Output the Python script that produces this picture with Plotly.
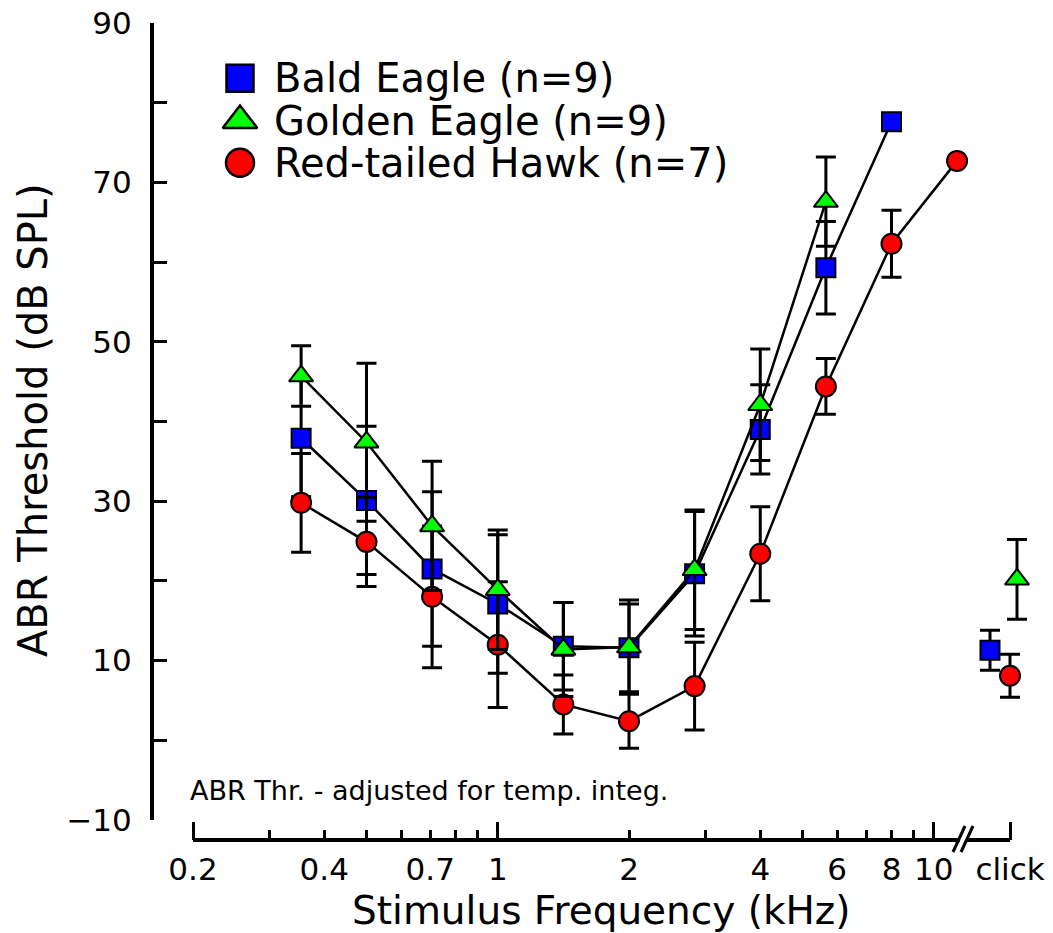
import numpy as np
import plotly.graph_objects as go

# ---------------- data ----------------
SERIES = ["Bald Eagle (n=9)", "Golden Eagle (n=9)", "Red-tailed Hawk (n=7)"]

BALD_FREQ = [0.354, 0.5, 0.707, 1.0, 1.414, 2.0, 2.828, 4.0, 5.657, 8.0]
BALD_THR = [37.9, 30.1, 21.5, 17.1, 11.8, 11.6, 20.9, 39.0, 59.3, 77.6]
BALD_SD = [7.3, 9.3, 9.7, 8.7, 5.5, 5.5, 7.8, 5.6, 5.8, 0.0]

GOLD_FREQ = [0.354, 0.5, 0.707, 1.0, 1.414, 2.0, 2.828, 4.0, 5.657]
GOLD_THR = [45.7, 37.4, 26.9, 18.9, 11.4, 11.7, 21.4, 42.1, 67.6]
GOLD_SD = [3.8, 9.9, 8.1, 7.5, 5.9, 5.9, 7.5, 7.0, 5.6]

HAWK_FREQ = [0.354, 0.5, 0.707, 1.0, 1.414, 2.0, 2.828, 4.0, 5.657, 8.0, 11.31]
HAWK_THR = [29.8, 24.9, 18.0, 12.0, 4.5, 2.4, 6.8, 23.4, 44.4, 62.3, 72.7]
HAWK_SD = [6.2, 5.6, 8.9, 7.9, 3.7, 3.4, 5.5, 5.9, 3.5, 4.2, 0.0]

# click stimulus (order as SERIES)
CLICK_THR = [11.3, 20.2, 8.1]
CLICK_SD = [2.5, 5.0, 2.7]

# axis ticks
X_MAJOR_TICKS = [0.2, 1, 10]
X_MAJOR_LABELS = ["0.2", "1", "10"]
X_LABEL_TICKS = [0.4, 0.7, 2, 4, 6, 8]
X_LABEL_TEXT = ["0.4", "0.7", "2", "4", "6", "8"]
X_MINOR_TICKS = [0.3, 0.4, 0.5, 0.6, 0.7, 0.8, 0.9, 2, 3, 4, 5, 6, 7, 8, 9]
CLICK_LABEL = "click"
Y_TICKS = [-10, 0, 10, 20, 30, 40, 50, 60, 70, 80, 90]
Y_LABELS = ["\u221210", "", "10", "", "30", "", "50", "", "70", "", "90"]

# ---------------- layout geometry ----------------
W, H = 1053, 933
FONT = "DejaVu Sans"
X_PX_START = 193      # pixel of 0.2 kHz
DEC_PX = 436          # pixels per decade
X_DOM_PX = (160, 1053)
X_AXIS_PX = 840
Y_AXIS_PX = 152
Y_TOP_PX, Y_BOT_PX = 23, 820
CLICK_PX = 1010

L02 = np.log10(0.2)
x_lo = L02 - (X_PX_START - X_DOM_PX[0]) / DEC_PX
x_hi = L02 + (X_DOM_PX[1] - X_PX_START) / DEC_PX
CLICK_POS = 10 ** (L02 + (CLICK_PX - X_PX_START) / DEC_PX)


def fx(p):
    return p / W


def fy(p):
    return 1 - p / H


STYLE = [
    dict(symbol="square", color="#0000ff", size=19, legsize=27, click_dpx=-20),
    dict(symbol="triangle-up", color="#00ff00", size=21, legsize=30, click_dpx=7),
    dict(symbol="circle", color="#ff0000", size=20, legsize=28, click_dpx=0),
]

DATA = [
    (BALD_FREQ, BALD_THR, BALD_SD),
    (GOLD_FREQ, GOLD_THR, GOLD_SD),
    (HAWK_FREQ, HAWK_THR, HAWK_SD),
]

fig = go.Figure()

# draw order: bald, hawk, golden
for i in [0, 2, 1]:
    fr, thr, sd = DATA[i]
    st = STYLE[i]
    marker = dict(symbol=st["symbol"], color=st["color"], size=st["size"],
                  line=dict(color="black", width=2))
    err = dict(type="data", array=sd, color="black", thickness=3, width=10, visible=True)
    fig.add_trace(go.Scatter(
        x=fr, y=thr, mode="lines+markers", name=SERIES[i],
        line=dict(color="black", width=2.5), marker=marker, error_y=err,
        showlegend=False, cliponaxis=False,
    ))
    fig.add_trace(go.Scatter(
        x=[CLICK_POS * 10 ** (st["click_dpx"] / DEC_PX)], y=[CLICK_THR[i]],
        mode="markers", name=SERIES[i] + " click", marker=marker,
        error_y=dict(type="data", array=[CLICK_SD[i]], color="black", thickness=3,
                     width=10, visible=True),
        showlegend=False, cliponaxis=False,
    ))

# manual legend (large symbols)
for i in range(3):
    st = STYLE[i]
    fig.add_trace(go.Scatter(
        x=[0.5], y=[i], xaxis="x2", yaxis="y2", mode="markers",
        marker=dict(symbol=st["symbol"], color=st["color"], size=st["legsize"],
                    line=dict(color="black", width=2.5)),
        showlegend=False, hoverinfo="skip",
    ))

annotations = []
for i in range(3):
    annotations.append(dict(
        x=fx(272), xref="paper", y=i, yref="y2", text=SERIES[i], showarrow=False,
        xanchor="left", yanchor="middle", font=dict(family=FONT, size=40, color="black"),
    ))

annotations += [
    dict(x=fx(188), y=fy(790), xref="paper", yref="paper",
         text="ABR Thr. - adjusted for temp. integ.", showarrow=False,
         xanchor="left", yanchor="middle",
         font=dict(family=FONT, size=27, color="black")),
    dict(x=fx(601), y=fy(910), xref="paper", yref="paper",
         text="Stimulus Frequency (kHz)", showarrow=False,
         xanchor="center", yanchor="middle",
         font=dict(family=FONT, size=39, color="black")),
    dict(x=fx(33), y=fy(420), xref="paper", yref="paper",
         text="ABR Threshold (dB SPL)", showarrow=False, textangle=-90,
         xanchor="center", yanchor="middle",
         font=dict(family=FONT, size=40, color="black")),
]

shapes = [
    # x axis line from 0.2 kHz to the click tick
    dict(type="line", xref="paper", yref="paper",
         x0=fx(X_PX_START), x1=fx(CLICK_PX), y0=fy(X_AXIS_PX), y1=fy(X_AXIS_PX),
         line=dict(color="black", width=4)),
    # axis break
    dict(type="line", xref="paper", yref="paper",
         x0=fx(960), x1=fx(966), y0=fy(X_AXIS_PX), y1=fy(X_AXIS_PX),
         line=dict(color="white", width=6)),
    dict(type="line", xref="paper", yref="paper",
         x0=fx(953), x1=fx(965), y0=fy(852), y1=fy(826),
         line=dict(color="black", width=3)),
    dict(type="line", xref="paper", yref="paper",
         x0=fx(961), x1=fx(973), y0=fy(852), y1=fy(826),
         line=dict(color="black", width=3)),
]

tickfont = dict(family=FONT, size=31, color="black")

fig.update_layout(
    width=W, height=H,
    margin=dict(l=0, r=0, t=0, b=0, autoexpand=False),
    paper_bgcolor="white", plot_bgcolor="white",
    showlegend=False,
    xaxis=dict(
        type="log", range=[x_lo, x_hi], domain=[fx(X_DOM_PX[0]), fx(X_DOM_PX[1])],
        anchor="free", position=fy(X_AXIS_PX), automargin=False,
        tickmode="array", tickvals=X_MAJOR_TICKS + [CLICK_POS],
        ticktext=X_MAJOR_LABELS + [CLICK_LABEL],
        ticks="inside", ticklen=18, tickwidth=3, tickcolor="black",
        minor=dict(tickmode="array", tickvals=X_MINOR_TICKS, ticks="inside", ticklen=10,
                   tickwidth=3, tickcolor="black", showgrid=False),
        showline=False, showgrid=False, zeroline=False,
        tickfont=tickfont, ticklabelstandoff=8,
    ),
    xaxis3=dict(
        type="log", range=[x_lo, x_hi], overlaying="x",
        anchor="free", position=fy(X_AXIS_PX), automargin=False,
        tickmode="array", tickvals=X_LABEL_TICKS, ticktext=X_LABEL_TEXT,
        ticks="", showline=False, showgrid=False, zeroline=False,
        tickfont=tickfont, ticklabelstandoff=8,
    ),
    yaxis=dict(
        range=[-10, 90], domain=[fy(Y_BOT_PX), fy(Y_TOP_PX)],
        anchor="free", position=fx(Y_AXIS_PX), automargin=False,
        tickmode="array", tickvals=Y_TICKS, ticktext=Y_LABELS,
        ticks="inside", ticklen=13, tickwidth=3, tickcolor="black",
        showline=True, linewidth=4, linecolor="black",
        showgrid=False, zeroline=False, tickfont=tickfont, ticklabelstandoff=12,
    ),
    xaxis2=dict(domain=[fx(220), fx(260)], range=[0, 1], visible=False,
                fixedrange=True, automargin=False),
    yaxis2=dict(domain=[fy(184), fy(57)], range=[2.5, -0.5], visible=False,
                anchor="x2", fixedrange=True, automargin=False),
    annotations=annotations,
    shapes=shapes,
)

# a trace is needed on xaxis3 for it to render
fig.add_trace(go.Scatter(x=[1], y=[None], xaxis="x3", yaxis="y", mode="markers",
                         showlegend=False, hoverinfo="skip"))

fig.write_html("out.html")
